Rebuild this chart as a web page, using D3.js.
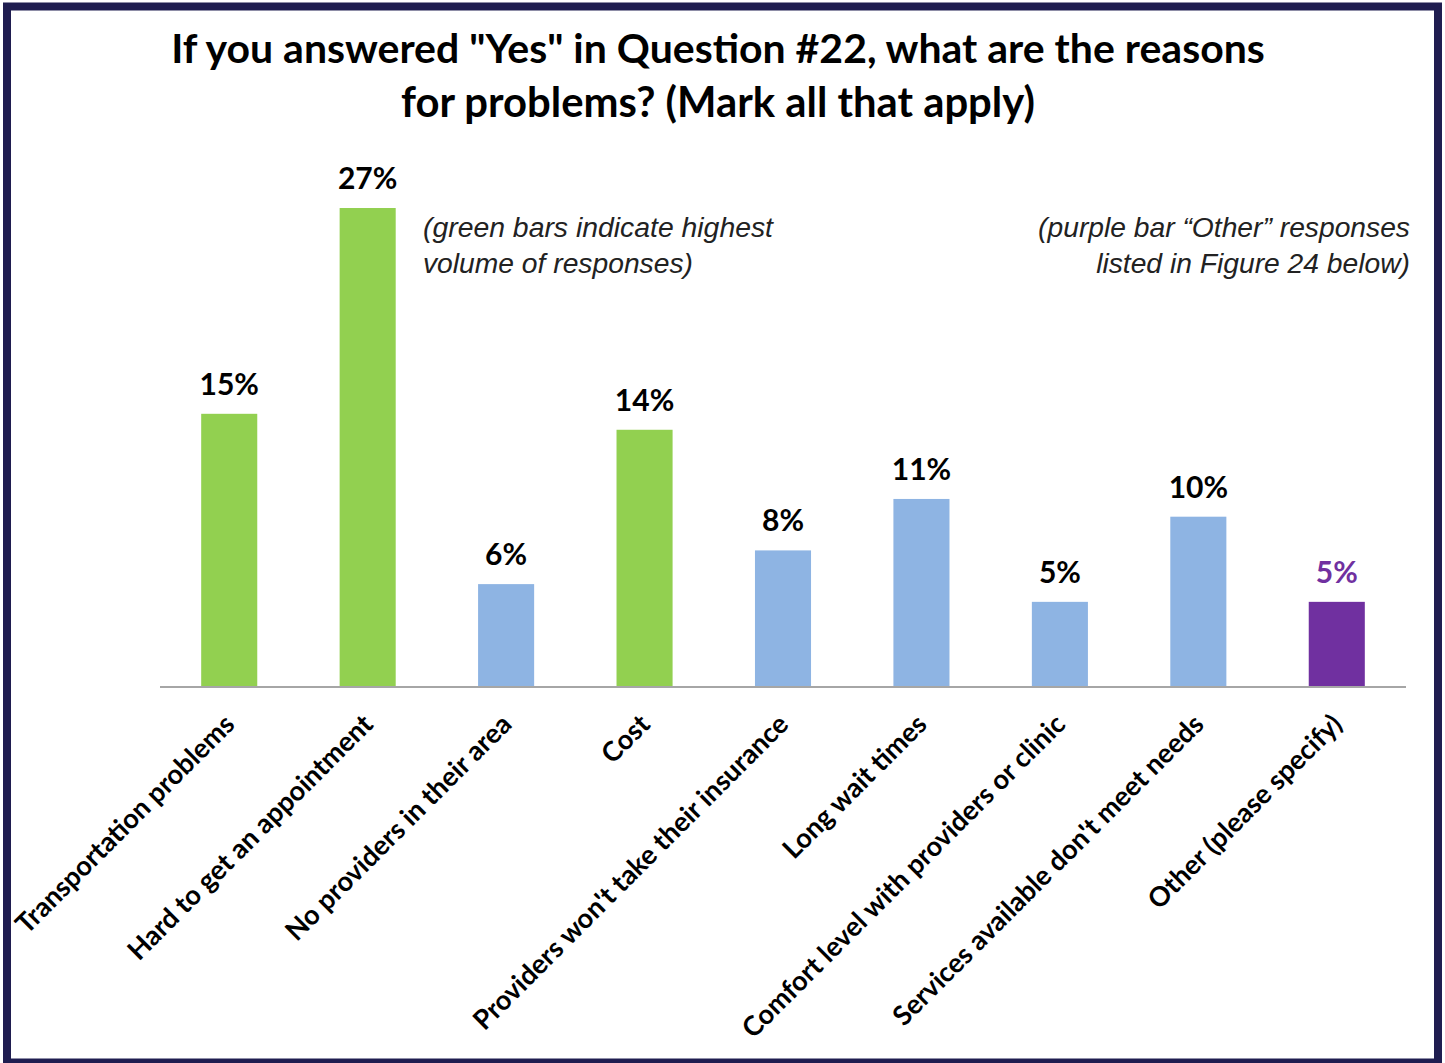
<!DOCTYPE html>
<html>
<head>
<meta charset="utf-8">
<script src="https://cdn.jsdelivr.net/npm/d3@7"></script>
<style>
  html, body { margin: 0; padding: 0; background: #fff; }
  svg { display: block; }
</style>
</head>
<body>
<svg id="chart" width="1445" height="1063"></svg>
<script>
// Survey responses: reasons for problems (share of respondents)
const categories = [
  "Transportation problems",
  "Hard to get an appointment",
  "No providers in their area",
  "Cost",
  "Providers won't take their insurance",
  "Long wait times",
  "Comfort level with providers or clinic",
  "Services available don't meet needs",
  "Other (please specify)"
];
const shares = [0.154, 0.270, 0.058, 0.145, 0.077, 0.106, 0.048, 0.096, 0.048];
// bar group: "high" = highest volume, "other" = listed separately, "base" = rest
const groups = ["high", "high", "base", "high", "base", "base", "base", "base", "other"];

const titleLines = [
  "If you answered \"Yes\" in Question #22, what are the reasons",
  "for problems? (Mark all that apply)"
];
const noteLeft = ["(green bars indicate highest", "volume of responses)"];
const noteRight = ["(purple bar \u201cOther\u201d responses", "listed in Figure 24 below)"];

const fillOf = { high: "#92d050", base: "#8eb4e3", other: "#7030a0" };
const labelColorOf = { high: "#000", base: "#000", other: "#7030a0" };

const svg = d3.select("#chart");

const boldFont = "Lato, 'Open Sans', sans-serif";
const noteFont = "'Liberation Sans Narrow', 'Arial Narrow', 'Liberation Sans', sans-serif";

// scale font size so a text element spans the given width
function fitWidth(sel, target) {
  const node = sel.node();
  const fs = parseFloat(sel.attr("font-size"));
  const w = node.getComputedTextLength();
  sel.attr("font-size", (fs * target / w).toFixed(2));
}

// frame
svg.append("rect")
  .attr("x", 7).attr("y", 6.5)
  .attr("width", 1431).attr("height", 1056)
  .attr("fill", "#fff")
  .attr("stroke", "#1f1d50")
  .attr("stroke-width", 8);

// title
const titleWidths = [1094, 634];
const titleY = [63, 117];
titleLines.forEach((t, i) => {
  const el = svg.append("text")
    .attr("x", 718).attr("y", titleY[i])
    .attr("text-anchor", "middle")
    .attr("font-family", boldFont)
    .attr("font-weight", 700)
    .attr("font-size", 36)
    .attr("fill", "#000")
    .text(t);
  fitWidth(el, titleWidths[i]);
});

// scales
const x = d3.scaleBand()
  .domain(categories)
  .range([160, 1406])
  .paddingInner(0.595)
  .paddingOuter(0.2975);

const y = d3.scaleLinear()
  .domain([0, 0.30])
  .range([687, 687 - 0.30 * 1774]);

const data = categories.map((c, i) => ({ c, v: shares[i], g: groups[i] }));

// bars
svg.append("g").selectAll("rect")
  .data(data)
  .join("rect")
  .attr("x", d => x(d.c))
  .attr("y", d => y(d.v))
  .attr("width", x.bandwidth())
  .attr("height", d => y(0) - y(d.v))
  .attr("fill", d => fillOf[d.g]);

// baseline axis
const axis = svg.append("g")
  .attr("transform", `translate(0,${y(0)})`)
  .call(d3.axisBottom(x).tickSize(0).tickPadding(0));
axis.select(".domain")
  .attr("stroke", "#a6a6a6")
  .attr("stroke-width", 2)
  .attr("d", "M160,0H1406");
axis.selectAll(".tick text")
  .attr("font-family", boldFont)
  .attr("font-weight", 700)
  .attr("font-size", 24)
  .attr("fill", "#000")
  .attr("text-anchor", "end")
  .attr("dy", null)
  .attr("y", null)
  .attr("transform", "translate(7,39) rotate(-45)");

// size category labels from the first one's span
{
  const first = axis.select(".tick text");
  const fs = parseFloat(first.attr("font-size"));
  const w = first.node().getComputedTextLength();
  const size = (fs * 296 / w).toFixed(2);
  axis.selectAll(".tick text").attr("font-size", size);
}

// value labels
const fmt = d3.format(".0%");
svg.append("g").selectAll("text")
  .data(data)
  .join("text")
  .attr("x", d => x(d.c) + x.bandwidth() / 2)
  .attr("y", d => y(d.v) - 19)
  .attr("text-anchor", "middle")
  .attr("font-family", boldFont)
  .attr("font-weight", 700)
  .attr("font-size", 30)
  .attr("fill", d => labelColorOf[d.g])
  .text(d => fmt(d.v));

// notes
const noteY = [237, 273];
const noteLeftW = [350, 270];
noteLeft.forEach((t, i) => {
  const el = svg.append("text")
    .attr("x", 423).attr("y", noteY[i])
    .attr("font-family", noteFont)
    .attr("font-style", "italic")
    .attr("font-size", 30)
    .attr("fill", "#222")
    .text(t);
  fitWidth(el, noteLeftW[i]);
});
const noteRightW = [372, 314];
noteRight.forEach((t, i) => {
  const el = svg.append("text")
    .attr("x", 1410).attr("y", noteY[i])
    .attr("text-anchor", "end")
    .attr("font-family", noteFont)
    .attr("font-style", "italic")
    .attr("font-size", 30)
    .attr("fill", "#222")
    .text(t);
  fitWidth(el, noteRightW[i]);
});
</script>
</body>
</html>
